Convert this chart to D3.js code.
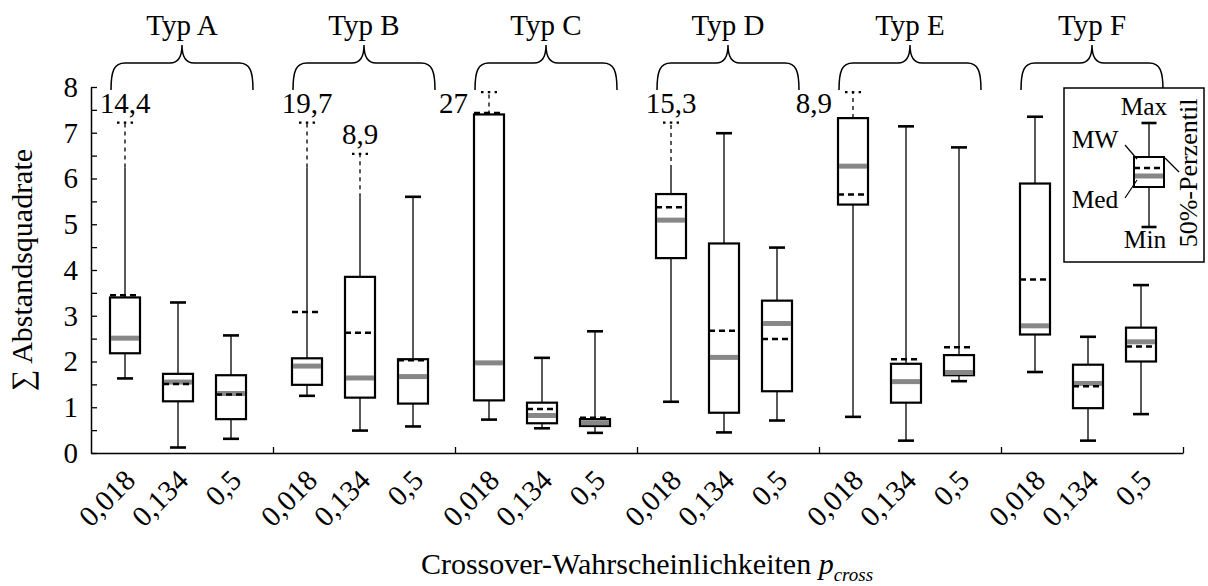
<!DOCTYPE html>
<html>
<head>
<meta charset="utf-8">
<script src="https://cdn.jsdelivr.net/npm/d3@7"></script>
<style>
  html, body { margin: 0; padding: 0; background: #fff; }
  svg { display: block; font-family: "Liberation Serif", "Times New Roman", serif; }
</style>
</head>
<body>
<svg id="chart" width="1208" height="586"></svg>
<script>
// Gruppen (Typ A–F) und Crossover-Wahrscheinlichkeiten je Gruppe
const groups = ["Typ A", "Typ B", "Typ C", "Typ D", "Typ E", "Typ F"];
const pCross = ["0,018", "0,134", "0,5"];
const yTickValues = [0, 1, 2, 3, 4, 5, 6, 7, 8];

// Kennwerte je Box, gruppenweise (A: 0,018 / 0,134 / 0,5, dann B, ...)
const minV   = [1.63, 0.12, 0.31,  1.25, 0.49, 0.58,  0.73, 0.54, 0.44,  1.12, 0.45, 0.71,  0.79, 0.27, 1.57,  1.77, 0.27, 0.85];
const q1V    = [2.18, 1.13, 0.74,  1.49, 1.21, 1.08,  1.15, 0.65, 0.59,  4.26, 0.88, 1.35,  5.43, 1.10, 1.70,  2.59, 0.98, 2.00];
const medV   = [2.51, 1.55, 1.30,  1.90, 1.64, 1.67,  1.97, 0.82, 0.66,  5.09, 2.09, 2.83,  6.27, 1.56, 1.76,  2.78, 1.52, 2.43];
const meanV  = [3.45, 1.51, 1.28,  3.08, 2.63, 2.03,  7.43, 0.96, 0.77,  5.37, 2.67, 2.49,  5.65, 2.05, 2.31,  3.79, 1.46, 2.33];
const q3V    = [3.40, 1.73, 1.70,  2.07, 3.85, 2.05,  7.40, 1.10, 0.74,  5.66, 4.58, 3.33,  7.32, 1.95, 2.14,  5.89, 1.93, 2.74];
const maxV   = [14.4, 3.29, 2.57,  19.7, 8.9,  5.60,  27,   2.08, 2.66,  15.3, 6.99, 4.49,  8.9,  7.14, 6.68,  7.35, 2.54, 3.67];
// abgeschnittene Whisker: Ende des durchgezogenen Teils und gezeichnetes Ende
const breakV = [6.24, null, null,  6.24, 5.59, null,  7.40, null, null,  6.21, null, null,  7.32, null, null,  null, null, null];
const cutV   = [7.22, null, null,  7.22, 6.54, null,  7.89, null, null,  7.22, null, null,  7.89, null, null,  null, null, null];

(function () {
const boxes = minV.map((_, i) => ({
  group: groups[Math.floor(i / 3)], p: pCross[i % 3],
  min: minV[i], q1: q1V[i], med: medV[i], mean: meanV[i], q3: q3V[i], max: maxV[i],
  brk: breakV[i], cut: cutV[i]
}));

const de = d3.formatLocale({ decimal: ",", thousands: ".", grouping: [3], currency: ["", " €"] });
const fmtMax = de.format("~r");

const svg = d3.select("#chart");
const plotLeft = 91, plotRight = 1183, plotBottom = 453, plotTop = 87;

const y = d3.scaleLinear().domain([0, 8]).range([plotBottom, plotTop]);
const xg = d3.scaleBand().domain(groups).range([plotLeft, plotRight]).padding(0);
const xi = d3.scalePoint().domain(pCross).range([-57, 49]);
const cx = d => xg(d.group) + xg.bandwidth() / 2 + xi(d.p);

const boxW = 30, capW = 16;
const fs = 29;

// y-Achse mit Teilstrichen nach innen
const yAxis = d3.axisLeft(y)
  .tickValues(d3.range(0, 8.001, 0.5))
  .tickSizeInner(-6).tickSizeOuter(0).tickPadding(13)
  .tickFormat(d => yTickValues.includes(d) ? d3.format("d")(d) : "");
const gy = svg.append("g").attr("transform", `translate(${plotLeft},0)`).call(yAxis);
gy.select(".domain").attr("stroke", "#000").attr("stroke-width", 1.5);
gy.selectAll(".tick line").attr("stroke", "#000").attr("stroke-width", 1.3);
gy.selectAll(".tick text").attr("font-size", fs).attr("font-family", "Liberation Serif").attr("fill", "#000");

// x-Achse: Grundlinie mit Trennstrichen zwischen den Gruppen
const xs = d3.scaleLinear().domain([0, groups.length]).range([plotLeft, plotRight]);
const xAxis = d3.axisBottom(xs).tickValues(d3.range(1, groups.length + 1))
  .tickSizeInner(-6).tickSizeOuter(0).tickFormat("");
const gx = svg.append("g").attr("transform", `translate(0,${plotBottom})`).call(xAxis);
gx.select(".domain").attr("stroke", "#000").attr("stroke-width", 1.5);
gx.selectAll(".tick line").attr("stroke", "#000").attr("stroke-width", 1.3);

// Beschriftung der Crossover-Wahrscheinlichkeiten
svg.append("g").selectAll("text").data(boxes).join("text")
  .attr("transform", d => `translate(${cx(d) + 12},${482}) rotate(-45)`)
  .attr("text-anchor", "end")
  .attr("font-size", fs)
  .text(d => d.p);

// Geschweifte Klammern und Gruppennamen
const braces = svg.append("g");
groups.forEach(g => {
  const c = xg(g) + xg.bandwidth() / 2, h = 71;
  const yEnd = 90, yMid = 63, yTip = 45;
  const path = `M${c - h},${yEnd} C${c - h},${yMid + 8} ${c - h + 3},${yMid} ${c - h + 14},${yMid}
    L${c - 12},${yMid} C${c - 4},${yMid} ${c},${yMid - 6} ${c},${yTip}
    C${c},${yMid - 6} ${c + 4},${yMid} ${c + 12},${yMid}
    L${c + h - 14},${yMid} C${c + h - 3},${yMid} ${c + h},${yMid + 8} ${c + h},${yEnd}`;
  braces.append("path").attr("d", path).attr("fill", "none").attr("stroke", "#000").attr("stroke-width", 1.5);
  braces.append("text").attr("x", c).attr("y", 35).attr("text-anchor", "middle")
    .attr("font-size", fs).text(g);
});

// Boxplots
const gb = svg.append("g");
boxes.forEach(d => {
  const x = cx(d);
  const g = gb.append("g");
  // unterer Whisker
  g.append("line").attr("x1", x).attr("x2", x).attr("y1", y(d.q1)).attr("y2", y(d.min))
    .attr("stroke", "#222").attr("stroke-width", 1.5);
  g.append("line").attr("x1", x - capW / 2).attr("x2", x + capW / 2).attr("y1", y(d.min)).attr("y2", y(d.min))
    .attr("stroke", "#000").attr("stroke-width", 2.6);
  // oberer Whisker
  if (d.cut == null) {
    g.append("line").attr("x1", x).attr("x2", x).attr("y1", y(d.q3)).attr("y2", y(d.max))
      .attr("stroke", "#222").attr("stroke-width", 1.5);
    g.append("line").attr("x1", x - capW / 2).attr("x2", x + capW / 2).attr("y1", y(d.max)).attr("y2", y(d.max))
      .attr("stroke", "#000").attr("stroke-width", 2.6);
  } else {
    if (d.brk > d.q3) {
      g.append("line").attr("x1", x).attr("x2", x).attr("y1", y(d.q3)).attr("y2", y(d.brk))
        .attr("stroke", "#222").attr("stroke-width", 1.5);
    }
    g.append("line").attr("x1", x).attr("x2", x).attr("y1", y(d.brk)).attr("y2", y(d.cut))
      .attr("stroke", "#222").attr("stroke-width", 1.5).attr("stroke-dasharray", "4,4");
    g.append("line").attr("x1", x - capW / 2).attr("x2", x + capW / 2).attr("y1", y(d.cut)).attr("y2", y(d.cut))
      .attr("stroke", "#000").attr("stroke-width", 2.2).attr("stroke-dasharray", "2.5,4.3");
    // wahrer Maximalwert als Zahl
    const atTop = d.cut > 7.5;
    g.append("text")
      .attr("x", atTop ? x - 21 : x)
      .attr("y", atTop ? y(d.cut) + 21 : y(d.cut) - 10)
      .attr("text-anchor", atTop ? "end" : "middle")
      .attr("font-size", fs)
      .text(fmtMax(d.max));
  }
  // Box (50%-Bereich)
  g.append("rect").attr("x", x - boxW / 2).attr("width", boxW)
    .attr("y", y(d.q3)).attr("height", y(d.q1) - y(d.q3))
    .attr("fill", "#fff").attr("stroke", "#000").attr("stroke-width", 2.2);
  // Median
  g.append("line").attr("x1", x - boxW / 2 + 1).attr("x2", x + boxW / 2 - 1).attr("y1", y(d.med)).attr("y2", y(d.med))
    .attr("stroke", "#878787").attr("stroke-width", 5);
  // Mittelwert
  g.append("line").attr("x1", x - boxW / 2).attr("x2", x + boxW / 2).attr("y1", y(d.mean)).attr("y2", y(d.mean))
    .attr("stroke", "#000").attr("stroke-width", 2.5).attr("stroke-dasharray", "6,4");
});

// Achsentitel
svg.append("text")
  .attr("transform", `translate(32,${270}) rotate(-90)`)
  .attr("text-anchor", "middle").attr("font-size", 30)
  .text("∑ Abstandsquadrate");

const xt = svg.append("text").attr("x", (plotLeft + plotRight) / 2 + 10).attr("y", 574)
  .attr("text-anchor", "middle").attr("font-size", 30);
xt.append("tspan").text("Crossover-Wahrscheinlichkeiten ");
xt.append("tspan").attr("font-style", "italic").text("p");
xt.append("tspan").attr("font-style", "italic").attr("font-size", 19).attr("dy", 7).text("cross");

// Legende
const lg = svg.append("g");
lg.append("rect").attr("x", 1064).attr("y", 88).attr("width", 140).attr("height", 174)
  .attr("fill", "#fff").attr("stroke", "#000").attr("stroke-width", 1.5);
const lx = 1149;
const ly = { max: 123, q3: 157, mean: 168, med: 176, q1: 187, min: 227 };
lg.append("line").attr("x1", lx).attr("x2", lx).attr("y1", ly.max).attr("y2", ly.min).attr("stroke", "#222").attr("stroke-width", 1.5);
[ly.max, ly.min].forEach(v => lg.append("line").attr("x1", lx - 7.5).attr("x2", lx + 7.5).attr("y1", v).attr("y2", v)
  .attr("stroke", "#000").attr("stroke-width", 2.6));
lg.append("rect").attr("x", lx - 15).attr("width", 30).attr("y", ly.q3).attr("height", ly.q1 - ly.q3)
  .attr("fill", "#fff").attr("stroke", "#000").attr("stroke-width", 2);
lg.append("line").attr("x1", lx - 14).attr("x2", lx + 14).attr("y1", ly.med).attr("y2", ly.med)
  .attr("stroke", "#878787").attr("stroke-width", 5);
lg.append("line").attr("x1", lx - 15).attr("x2", lx + 15).attr("y1", ly.mean).attr("y2", ly.mean)
  .attr("stroke", "#000").attr("stroke-width", 2.5).attr("stroke-dasharray", "6,4");
const leader = (x1, y1, x2, y2) => lg.append("line").attr("x1", x1).attr("y1", y1).attr("x2", x2).attr("y2", y2)
  .attr("stroke", "#000").attr("stroke-width", 1.2);
leader(1125, 145, 1137, 159);
leader(1125, 198, 1137, 180);
leader(1165, 158, 1179, 172);
const lt = (x, yy, t, anchor) => lg.append("text").attr("x", x).attr("y", yy).attr("text-anchor", anchor)
  .attr("font-size", 25.5).text(t);
lt(1144, 115, "Max", "middle");
lt(1095, 148, "MW", "middle");
lt(1095, 208, "Med", "middle");
lt(1145, 248, "Min", "middle");
lg.append("text").attr("transform", "translate(1197,173) rotate(-90)").attr("text-anchor", "middle")
  .attr("font-size", 26).text("50%-Perzentil");
})();
</script>
</body>
</html>
